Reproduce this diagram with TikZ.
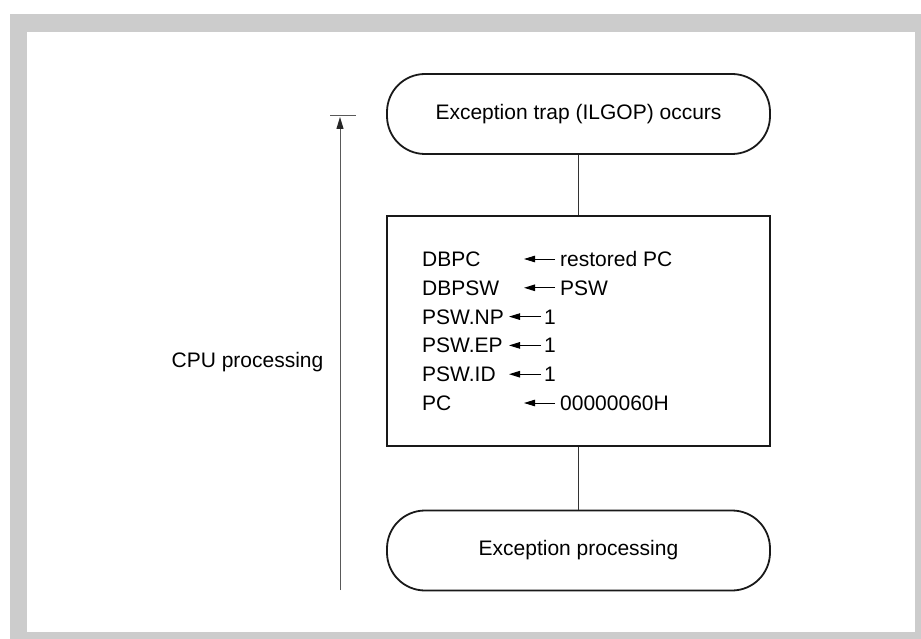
\documentclass[tikz,border=0pt]{standalone}
\usepackage{fontspec}
\setmainfont{Liberation Sans}
\usetikzlibrary{arrows.meta}
\begin{document}
\begin{tikzpicture}[x=1pt,y=-1pt,
  every node/.style={font=\fontsize{21}{24}\selectfont, inner sep=0pt},
  term/.style={draw=black!90, line width=1.8pt, rounded corners=38pt, minimum width=383pt, minimum height=80pt},
  procbox/.style={draw=black!90, line width=1.8pt, minimum width=383pt, minimum height=230pt},
  link/.style={draw=black!80, line width=0.9pt},
  setarrow/.style={line width=1pt, -{Triangle[length=11pt,width=6.5pt,black]}},
  txt/.style={anchor=base west}
]
\useasboundingbox (0,0) rectangle (921,639);
\fill[black!20] (10,14) rectangle (921,639);
\fill[white] (27,32) rectangle (915,632);

\node[term] (start) at (578.5,114) {Exception trap (ILGOP) occurs};
\node[procbox] (proc) at (578.5,331) {};
\node[term] (end) at (578.5,550.5) {Exception processing};
\draw[link] (start.south) -- (proc.north);
\draw[link] (proc.south) -- (end.north);

% rows
\foreach \i/\lhs/\rhs/\a/\b/\v in {
  1/DBPC/restored PC/524/555/560,
  2/DBPSW/PSW/524/555/560,
  3/PSW.NP/1/509/541/544,
  4/PSW.EP/1/509/541/544,
  5/PSW.ID/1/509/541/544,
  6/PC/00000060H/524/555/560}{
  \pgfmathsetmacro{\yy}{259+28.8*(\i-1)+7.5}
  \node[txt] (l\i) at (422,\yy) {\lhs};
  \node[txt] (r\i) at (\v,\yy) {\rhs};
  \coordinate (as\i) at (\b,\yy-7.5);
  \coordinate (ae\i) at (\a,\yy-7.5);
  \draw[setarrow] (as\i) -- (ae\i);
}

% CPU processing span
\coordinate (cpuB) at (340,590);
\coordinate (cpuT) at (340,117);
\coordinate (barL) at (330,116);
\coordinate (barR) at (356,116);
\draw[black!65, line width=1pt] (barL) -- (barR);
\draw[black!65, line width=1pt, -{Triangle[length=12pt,width=7pt,black!85]}] (cpuB) -- (cpuT);
\node (cpu) at (247.5,362) {CPU processing};
\end{tikzpicture}
\end{document}
